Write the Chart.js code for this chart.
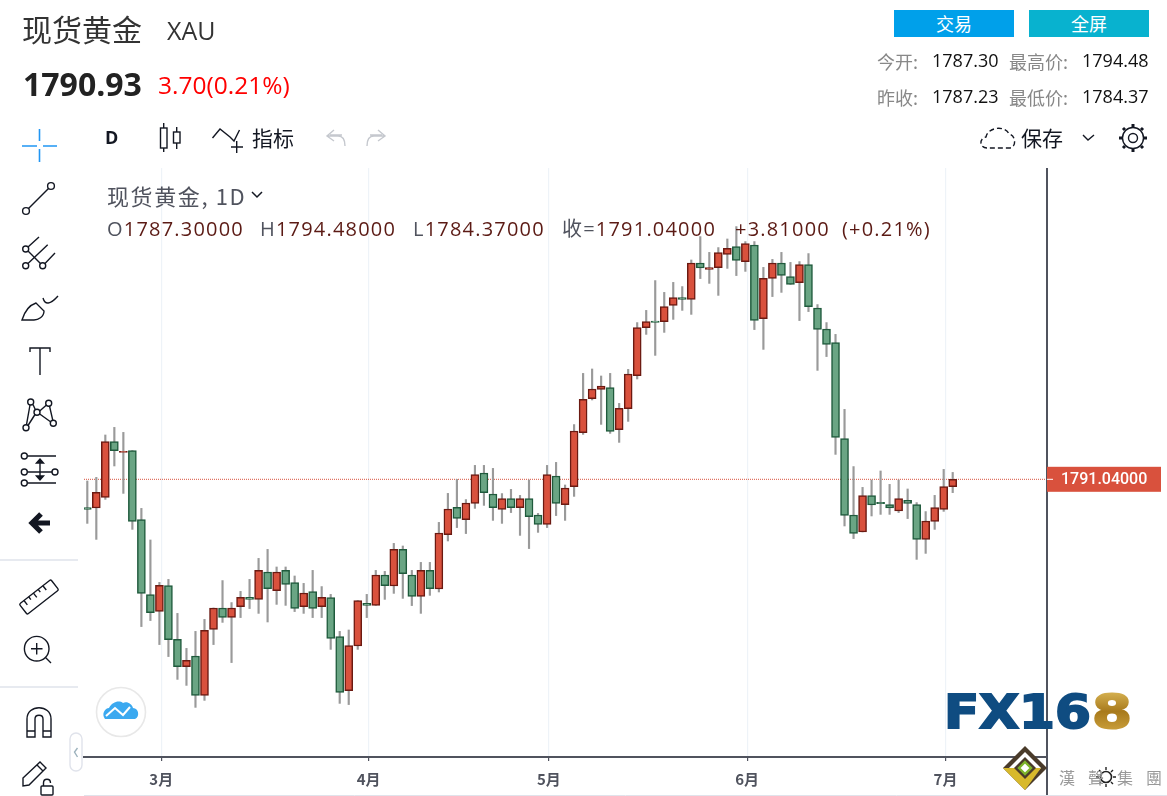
<!DOCTYPE html>
<html>
<head>
<meta charset="utf-8">
<script src="https://cdn.jsdelivr.net/npm/chart.js@4/dist/chart.umd.min.js"></script>
<style>
html, body { margin: 0; padding: 0; background: #fff; }
body { width: 1167px; height: 796px; position: relative; overflow: hidden;
       font-family: "Noto Sans CJK SC", "Noto Sans", sans-serif; }
#chart { position: absolute; left: 0; top: 0; z-index: 1; }
#icons { position: absolute; left: 0; top: 0; z-index: 2; }
.t { position: absolute; white-space: nowrap; line-height: 1; z-index: 3; }
.sm { font-size: 18px; color: #888; }
.num { font-family: "Open Sans", sans-serif; font-size: 18px; color: #111; }
.leg { font-family: "Open Sans", "Noto Sans CJK SC", sans-serif; font-size: 20px; letter-spacing: 1.2px; color: #5b1a14; }
.leg b { font-weight: normal; color: #50535e; }
.btn { position: absolute; top: 10px; width: 120px; height: 27px; line-height: 27px; text-align: center;
       color: #fff; font-size: 18px; z-index: 3; }
</style>
</head>
<body>
<canvas id="chart" width="1167" height="796"></canvas>

<svg id="icons" width="1167" height="796" fill="none" stroke="#131722" stroke-width="1.4">
  <defs>
    <linearGradient id="gold" x1="0" y1="0" x2="0" y2="1">
      <stop offset="0" stop-color="#e8c766"/><stop offset="0.5" stop-color="#a87a1c"/><stop offset="1" stop-color="#d8ae48"/>
    </linearGradient>
  </defs>
  <!-- left toolbar -->
  <path d="M39.5 129V141M39.5 149V162M22 146H37M43 146H57" stroke="#2196f3" stroke-width="1.6"/>
  <circle cx="26" cy="211" r="3.4"/><circle cx="51" cy="186" r="3.4"/><path d="M28.5 208.5L48.5 188.5"/>
  <circle cx="25.7" cy="249" r="3"/><circle cx="25.7" cy="265.7" r="3"/><circle cx="42.7" cy="265.7" r="3"/>
  <path d="M28 247L39 237M28 263.5L47.7 244.7M45 263.5L55 253M28 251L40.5 263.5"/>
  <path d="M22 320C25 310 30 305 36 303L44 311C44 317 38 320 34 320ZM43 298C45 305 50 305 58 296"/>
  <path d="M30 352V348H50V352M40 348V375"/>
  <circle cx="30.7" cy="402" r="3"/><circle cx="48.7" cy="403.3" r="3"/><circle cx="37" cy="412.3" r="3"/>
  <circle cx="53.3" cy="423.3" r="3"/><circle cx="26" cy="427.7" r="3"/>
  <path d="M30 405L26.5 424.7M33 404.5L35.5 410M28 425.5L35 414.5M39.7 411L46.5 405M49.5 406L52.8 420.3M39.7 414L50.5 421.8"/>
  <circle cx="24.3" cy="456" r="3"/><circle cx="24.3" cy="472" r="3"/><circle cx="55" cy="472" r="3"/><circle cx="24.3" cy="483" r="3"/>
  <path d="M27.5 456H56M27.5 472H52M27.5 483H56M40 460V480"/>
  <path d="M36.5 463L40 459L43.5 463ZM36.5 476L40 480L43.5 476Z" fill="#131722"/>
  <path d="M50 523H32M41 514L32 523L41 532" stroke-width="5.2"/>
  <path d="M0 560H78M0 687H78" stroke="#e0e3eb" stroke-width="1.6"/>
  <g transform="translate(39 597) rotate(-38)">
    <rect x="-20" y="-6.5" width="40" height="13" rx="1.5"/>
    <path d="M-14 -6.5V-1M-8 -6.5V-3M-2 -6.5V-1M4 -6.5V-3M10 -6.5V-1"/>
  </g>
  <circle cx="36.7" cy="648.7" r="12.3"/><path d="M31 648.7H42.5M36.7 643V654.5M45.5 657.5L51 663"/>
  <path d="M27 737V719C27 704 51 704 51 719V737H43V719C43 714 35 714 35 719V737ZM27 731H35M43 731H51"/>
  <path d="M23 778L40 762L46 768L29 785L23 786ZM37 765L43 771"/>
  <rect x="41" y="786" width="12" height="9" rx="1"/><path d="M43.5 786V783C43.5 778 50.5 778 50.5 783"/>
  <!-- top toolbar -->
  <path d="M163.7 123V152M176.7 127V149"/>
  <rect x="160.5" y="128" width="6.5" height="20" fill="#fff"/><rect x="173.5" y="132" width="6.5" height="11" fill="#fff"/>
  <path d="M212.5 138L220 129L230 137L234 141L239.5 130M236.7 141V153M231 147H243"/>
  <path d="M342 135H330M334 130L327 136L334 141M327 136H338C344 136 345 141 345 146" stroke="#c5c8ce"/>
  <path d="M370 135H382M378 130L385 136L378 141M385 136H374C368 136 367 141 367 146" stroke="#c5c8ce"/>
  <path d="M987 148C979 148 979 138 986 137C988 127 1005 125 1009 134C1016 135 1017 148 1009 148Z" stroke-dasharray="5 3"/>
  <path d="M1083 135L1088 140L1094 135"/>
  <circle cx="1133" cy="138" r="4.5"/><circle cx="1133" cy="138" r="10.5"/>
  <path d="M1133 124V127M1133 149V152M1119 138H1122M1144 138H1147M1123 128L1125 130M1141 146L1143 148M1143 128L1141 130M1125 146L1123 148" stroke-width="3"/>
  <!-- cloud badge and sidebar handle -->
  <circle cx="121" cy="712" r="24.5" fill="#fff" stroke="#e8e8e8" stroke-width="1.6"/>
  <path d="M105 719C101 714 105 708 109 708C112 702 119 700 123 703C127 701 132 704 133 708C139 708 140 717 135 719Z" fill="#3ba9f0" stroke="none"/>
  <path d="M106 716L115 708L123 715L130 707" stroke="#fff" stroke-width="2"/>
  <rect x="70" y="733" width="12" height="38" rx="6" fill="#fff" stroke="#e0e3eb"/>
  <path d="M77.5 748L74.5 752L77.5 757" stroke="#9db2bd"/>
  <!-- FX168 watermark -->
  <text x="944" y="728" font-family="DejaVu Sans" font-weight="bold" font-size="47" textLength="147" lengthAdjust="spacingAndGlyphs" fill="#0f4c81" stroke="#0f4c81" stroke-width="2">FX16</text>
  <text x="1092" y="728" font-family="DejaVu Sans" font-weight="bold" font-size="47" textLength="40" lengthAdjust="spacingAndGlyphs" fill="url(#gold)" stroke="url(#gold)" stroke-width="2">8</text>
  <path d="M1025 746L1047 768L1025 790L1003 768Z" fill="#4a3b2a" stroke="none"/>
  <path d="M1025 752L1041 768L1025 784L1009 768Z" fill="#fff" stroke="none"/>
  <path d="M1009 768L1041 768L1025 790L1003 768Z" fill="#d8b92b" stroke="none"/>
  <path d="M1025 757L1036 768L1025 779L1014 768Z" fill="#4a3b2a" stroke="none"/>
  <path d="M1025 762L1031 768L1025 774L1019 768Z" fill="#fff" stroke="#7db32a" stroke-width="2.4"/>
  <circle cx="1106" cy="777" r="5.5" stroke="#222" stroke-width="1.6"/>
  <path d="M1106 767V770M1106 784V787M1096 777H1099M1113 777H1116M1099 770L1101 772M1111 782L1113 784M1113 770L1111 772M1101 782L1099 784" stroke="#222"/>
</svg>

<div class="t" style="left:22px;top:13px;font-size:30px;color:#333">现货黄金</div>
<div class="t" style="left:167px;top:18px;font-size:25px;color:#333;font-family:'Open Sans'">XAU</div>
<div class="t" style="left:23px;top:68px;font-size:32px;font-weight:bold;color:#222;font-family:'Open Sans'">1790.93</div>
<div class="t" style="left:158px;top:73px;font-size:24.5px;color:#f00;font-family:'Open Sans'">3.70(0.21%)</div>

<div class="btn" style="left:894px;background:#00a0ea">交易</div>
<div class="btn" style="left:1029px;background:#08b2cf">全屏</div>

<div class="t sm" style="left:877px;top:52px">今开:</div>
<div class="t num" style="left:932px;top:51px">1787.30</div>
<div class="t sm" style="left:1009px;top:52px">最高价:</div>
<div class="t num" style="left:1082px;top:51px">1794.48</div>
<div class="t sm" style="left:877px;top:88px">昨收:</div>
<div class="t num" style="left:932px;top:87px">1787.23</div>
<div class="t sm" style="left:1009px;top:88px">最低价:</div>
<div class="t num" style="left:1082px;top:87px">1784.37</div>

<div class="t" style="left:105px;top:128px;font-size:18px;font-weight:bold;color:#131722;font-family:'Open Sans'">D</div>
<div class="t" style="left:252px;top:127px;font-size:21px;color:#131722">指标</div>
<div class="t" style="left:1021px;top:127px;font-size:21px;color:#131722">保存</div>

<div class="t" style="left:107px;top:184px;font-size:22px;letter-spacing:1.6px;color:#50535e">现货黄金, 1D</div>
<svg class="t" style="left:251px;top:190px" width="12" height="10" fill="none" stroke="#131722" stroke-width="1.5"><path d="M1 2L6 7L11 2"/></svg>
<div class="t leg" style="left:107px;top:219px"><b>O</b>1787.30000</div>
<div class="t leg" style="left:260px;top:219px"><b>H</b>1794.48000</div>
<div class="t leg" style="left:413px;top:219px"><b>L</b>1784.37000</div>
<div class="t leg" style="left:562px;top:219px"><b>收=</b>1791.04000</div>
<div class="t leg" style="left:735px;top:219px">+3.81000</div>
<div class="t leg" style="left:842px;top:219px">(+0.21%)</div>

<div class="t" style="left:1059px;top:769px;font-size:16px;color:#999;letter-spacing:13px">漢聲集團</div>

<script>
// Spot gold daily candles (oldest first)
const opens = [1776.9,1776.7,1782.0,1809.9,1804.5,1805.4,1770.9,1733.4,1725.0,1737.9,1711.0,1697.4,1702.7,1683.0,1716.0,1726.7,1722.0,1727.4,1732.0,1731.0,
  1744.7,1735.4,1745.5,1739.4,1727.4,1734.9,1727.4,1731.9,1712.4,1685.4,1707.7,1729.0,1728.0,1743.2,1737.7,1756.0,1743.2,1732.5,1745.5,1736.2,
  1763.4,1777.0,1770.9,1779.0,1794.2,1783.7,1776.0,1781.4,1776.9,1781.4,1773.2,1768.5,1792.7,1778.4,1787.4,1814.4,1831.4,1836.0,1836.9,1815.9,
  1826.4,1842.9,1866.9,1870.2,1869.9,1878.0,1881.9,1881.0,1899.2,1896.0,1896.9,1903.5,1907.4,1899.9,1908.2,1871.4,1891.5,1899.2,1892.4,1889.4,
  1898.4,1876.7,1866.2,1859.4,1811.4,1773.2,1764.7,1782.9,1779.5,1778.4,1775.2,1780.5,1778.4,1761.0,1770.0,1776.0,1787.3];
const highs = [1790.2,1792.0,1813.2,1817.0,1814.5,1805.4,1776.5,1760.7,1739.5,1741.0,1724.0,1706.5,1715.0,1721.0,1726.7,1740.4,1729.4,1735.0,1741.0,1751.5,
  1756.0,1747.2,1747.2,1742.7,1739.0,1745.5,1737.4,1733.5,1715.0,1715.7,1730.4,1733.5,1745.5,1745.0,1759.0,1757.7,1745.5,1749.5,1749.5,1769.5,
  1784.0,1791.0,1780.9,1798.0,1798.0,1796.5,1783.9,1786.0,1783.0,1790.7,1774.0,1798.0,1799.5,1788.2,1818.4,1844.0,1846.2,1842.7,1844.0,1829.0,
  1846.0,1869.4,1875.5,1890.4,1884.5,1889.5,1887.4,1900.7,1912.4,1904.5,1906.9,1911.2,1917.4,1909.9,1909.9,1897.0,1901.0,1904.5,1899.5,1899.9,
  1903.9,1878.4,1869.4,1863.5,1826.0,1797.4,1787.0,1790.7,1795.2,1788.5,1790.7,1786.2,1779.4,1774.9,1783.0,1796.0,1794.48];
const lows = [1769.0,1761.0,1781.0,1797.7,1784.0,1766.0,1717.4,1720.4,1708.4,1702.4,1691.0,1688.0,1677.0,1680.5,1708.4,1719.5,1699.4,1721.9,1726.4,1724.0,
  1719.7,1728.5,1728.0,1724.9,1724.0,1721.9,1721.9,1706.0,1679.0,1678.4,1706.0,1721.9,1728.0,1731.0,1734.0,1731.5,1727.9,1724.0,1733.0,1734.7,
  1760.2,1766.9,1763.9,1776.5,1778.0,1770.5,1769.0,1774.4,1763.0,1756.4,1764.5,1766.9,1772.9,1770.5,1782.5,1813.5,1830.7,1818.5,1814.0,1809.5,
  1820.0,1841.2,1863.5,1853.0,1864.5,1871.0,1875.5,1873.5,1891.4,1889.0,1883.0,1896.5,1892.9,1895.0,1865.9,1856.0,1882.4,1884.5,1888.5,1870.4,
  1874.9,1845.5,1852.4,1803.5,1767.7,1761.4,1764.7,1772.7,1773.5,1773.5,1774.4,1771.4,1751.0,1754.0,1766.0,1775.0,1784.37];
const closes = [1776.0,1784.5,1809.9,1805.4,1805.0,1770.0,1734.0,1724.4,1738.0,1710.9,1697.4,1700.5,1683.0,1715.5,1726.7,1722.0,1726.7,1732.0,1731.0,1745.5,
  1736.4,1744.7,1738.5,1726.5,1734.2,1726.5,1732.0,1711.5,1684.5,1707.9,1730.4,1728.0,1743.2,1737.9,1756.0,1743.9,1732.5,1745.5,1736.4,1764.2,
  1776.2,1771.5,1779.2,1793.4,1784.4,1776.9,1781.4,1776.9,1781.4,1772.4,1768.5,1793.4,1779.0,1786.7,1815.2,1831.0,1836.2,1837.7,1815.0,1826.5,
  1843.7,1866.9,1869.9,1869.5,1877.4,1881.9,1881.0,1899.2,1896.7,1896.9,1904.4,1906.5,1900.5,1908.9,1870.5,1891.5,1899.2,1893.0,1888.5,1898.4,
  1877.4,1866.0,1858.5,1812.0,1773.0,1764.0,1782.9,1778.2,1778.9,1776.7,1781.4,1779.0,1761.0,1770.2,1776.9,1787.4,1791.04];

// Month labels and the candle each one starts on
const monthLabels = ['3月', '4月', '5月', '6月', '7月'];
const monthCandles = [8, 31, 51, 73, 95];

const lastPrice = closes[closes.length - 1];

const upFill = '#d9513d', upEdge = '#6b1a12';
const downFill = '#6aa584', downEdge = '#1f5a3c';
const axisDark = '#50535e';

const xMin = -0.366, xMax = 106.46;

// Long axis line running past the plot, and the price tag on the right
const priceTag = {
    id: 'priceTag',
    afterDraw(chart) {
        const c = chart.ctx, area = chart.chartArea;
        const y = chart.scales.y.getPixelForValue(lastPrice);
        c.save();
        c.strokeStyle = axisDark;
        c.lineWidth = 2;
        c.beginPath();
        c.moveTo(area.right, area.top);
        c.lineTo(area.right, 796);
        c.stroke();
        c.fillStyle = upFill;
        c.fillRect(area.right, y - 12.5, 114, 25);
        c.fillStyle = '#fff';
        c.fillRect(area.right, y - 0.5, 6, 1);
        c.font = '500 16px Roboto';
        c.textBaseline = 'middle';
        c.fillText(lastPrice.toFixed(5), area.right + 14, y + 0.5);
        // faint bottom border of the panel
        c.strokeStyle = '#e0e3eb';
        c.lineWidth = 1;
        c.beginPath();
        c.moveTo(84, 795.5);
        c.lineTo(1167, 795.5);
        c.stroke();
        c.restore();
    }
};

const ctx = document.getElementById('chart').getContext('2d');
new Chart(ctx, {
    type: 'bar',
    data: {
        datasets: [
            {
                // current price line
                type: 'line',
                data: [{ x: xMin, y: lastPrice }, { x: xMax, y: lastPrice }],
                borderColor: upFill,
                borderWidth: 1,
                borderDash: [1, 1],
                pointRadius: 0,
                order: 3
            },
            {
                // wicks
                data: highs.map((h, i) => ({ x: i, y: [lows[i], h] })),
                backgroundColor: '#9a9a9a',
                barThickness: 1.5,
                grouped: false,
                order: 2
            },
            {
                // bodies
                data: opens.map((o, i) => ({ x: i, y: [o, closes[i]] })),
                backgroundColor: c => closes[c.dataIndex] >= opens[c.dataIndex] ? upFill : downFill,
                borderColor: c => closes[c.dataIndex] >= opens[c.dataIndex] ? upEdge : downEdge,
                borderWidth: 1.5,
                borderSkipped: false,
                barThickness: 8,
                grouped: false,
                order: 1
            }
        ]
    },
    options: {
        responsive: false,
        animation: false,
        layout: { padding: { left: 84, top: 168, right: 120, bottom: 0 } },
        plugins: { legend: { display: false }, title: { display: false }, tooltip: { enabled: false } },
        scales: {
            x: {
                type: 'linear',
                offset: false,
                min: xMin,
                max: xMax,
                afterBuildTicks: scale => { scale.ticks = monthCandles.map(i => ({ value: i + 0.2 })); },
                afterFit: scale => { scale.height = 39; },
                ticks: {
                    autoSkip: false,
                    maxRotation: 0,
                    padding: 9,
                    color: axisDark,
                    font: { family: '"Noto Sans CJK SC"', size: 15, weight: 'bold' },
                    callback: (value, index) => monthLabels[index]
                },
                grid: { offset: false, color: '#eef3f8', tickColor: axisDark, tickLength: 4, lineWidth: 1.2 },
                border: { color: axisDark, width: 2 }
            },
            y: {
                position: 'right',
                min: 1652.19,
                max: 1946.69,
                afterFit: scale => { scale.width = 0; },
                ticks: { display: false },
                grid: { display: false },
                border: { display: false }
            }
        }
    },
    plugins: [priceTag]
});
</script>
</body>
</html>
